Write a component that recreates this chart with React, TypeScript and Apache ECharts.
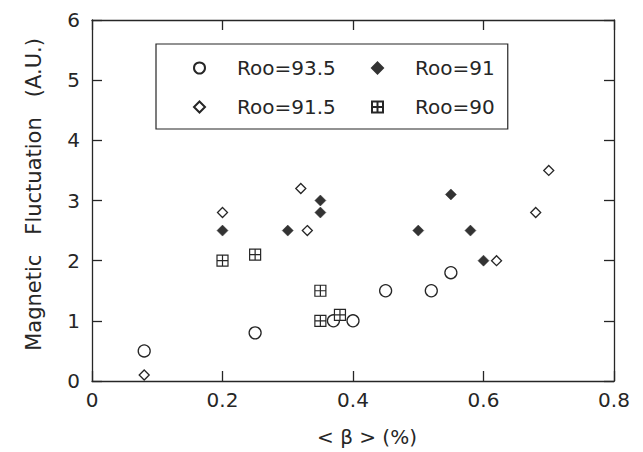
import React, { useEffect, useRef } from "react";
import * as echarts from "echarts";

const xTickLabels = ["0", "0.2", "0.4", "0.6", "0.8"];
const yTickLabels = ["0", "1", "2", "3", "4", "5", "6"];

const roo935X = [0.08, 0.25, 0.37, 0.4, 0.45, 0.52, 0.55];
const roo935Y = [0.5, 0.8, 1.0, 1.0, 1.5, 1.5, 1.8];

const roo91X = [0.2, 0.3, 0.35, 0.35, 0.5, 0.55, 0.58, 0.6];
const roo91Y = [2.5, 2.5, 2.8, 3.0, 2.5, 3.1, 2.5, 2.0];

const roo915X = [0.08, 0.2, 0.32, 0.33, 0.62, 0.68, 0.7];
const roo915Y = [0.1, 2.8, 3.2, 2.5, 2.0, 2.8, 3.5];

const roo90X = [0.2, 0.25, 0.35, 0.35, 0.38];
const roo90Y = [2.0, 2.1, 1.5, 1.0, 1.1];

const FONT = "DejaVu Sans";
const INK = "#262626";

const pairs = (xs: number[], ys: number[]) => xs.map((x, i) => [x, ys[i]]);

const boxPlus = "path://M0,0L10,0L10,10L0,10Z M5,0L5,10 M0,5L10,5";

export default function App() {
  const ref = useRef<HTMLDivElement>(null);
  useEffect(() => {
    if (!ref.current) return;
    const chart = echarts.init(ref.current, undefined, { renderer: "svg" });
    const tickCommon = {
      show: true,
      inside: true,
      length: 10,
      lineStyle: { color: INK, width: 1.3 },
    };
    const lineCommon = {
      show: true,
      onZero: false,
      lineStyle: { color: INK, width: 1.3 },
    };
    const legendText = {
      fontFamily: FONT,
      fontSize: 20,
      color: INK,
      padding: [0, 0, 0, 27],
    };
    chart.setOption({
      animation: false,
      backgroundColor: "#fff",
      grid: { left: 92, right: 29, top: 20, bottom: 70 },
      legend: [
        {
          data: ["Roo=93.5", "Roo=91.5"],
          orient: "vertical",
          left: 156,
          top: 44,
          padding: [14, 172, 12, 37],
          itemGap: 19,
          itemWidth: 11,
          itemHeight: 11,
          borderColor: INK,
          borderWidth: 1.2,
          textStyle: legendText,
          selectedMode: false,
        },
        {
          data: ["Roo=91", "Roo=90"],
          orient: "vertical",
          left: 371,
          top: 58,
          padding: 0,
          itemGap: 19,
          itemWidth: 11,
          itemHeight: 11,
          textStyle: legendText,
          selectedMode: false,
        },
      ],
      xAxis: [
        {
          type: "value",
          min: 0,
          max: 0.8,
          interval: 0.2,
          position: "bottom",
          axisLine: lineCommon,
          axisTick: tickCommon,
          splitLine: { show: false },
          axisLabel: {
            margin: 9,
            fontFamily: FONT,
            fontSize: 20,
            color: INK,
            formatter: (_v: number, i: number) => xTickLabels[i],
          },
          name: "< β > (%)",
          nameLocation: "middle",
          nameGap: 46,
          nameTextStyle: {
            fontFamily: FONT,
            fontSize: 20,
            color: INK,
            padding: [0, 0, 0, 28],
          },
        },
        {
          type: "value",
          min: 0,
          max: 0.8,
          interval: 0.2,
          position: "top",
          axisLine: lineCommon,
          axisTick: tickCommon,
          splitLine: { show: false },
          axisLabel: { show: false },
        },
      ],
      yAxis: [
        {
          type: "value",
          min: 0,
          max: 6,
          interval: 1,
          position: "left",
          axisLine: lineCommon,
          axisTick: tickCommon,
          splitLine: { show: false },
          axisLabel: {
            margin: 12,
            fontFamily: FONT,
            fontSize: 20,
            color: INK,
            formatter: (_v: number, i: number) => yTickLabels[i],
          },
          name: "Magnetic   Fluctuation   (A.U.)",
          nameLocation: "middle",
          nameGap: 48,
          nameTextStyle: {
            fontFamily: FONT,
            fontSize: 21,
            color: INK,
            padding: [0, 0, 0, 12],
          },
        },
        {
          type: "value",
          min: 0,
          max: 6,
          interval: 1,
          position: "right",
          axisLine: lineCommon,
          axisTick: tickCommon,
          splitLine: { show: false },
          axisLabel: { show: false },
        },
      ],
      series: [
        {
          name: "Roo=93.5",
          type: "scatter",
          symbol: "circle",
          symbolSize: 12,
          itemStyle: { color: "#fff", borderColor: INK, borderWidth: 1.3, opacity: 1 },
          data: pairs(roo935X, roo935Y),
        },
        {
          name: "Roo=91",
          type: "scatter",
          symbol: "diamond",
          symbolSize: 11,
          itemStyle: { color: "#333", borderColor: "#333", borderWidth: 0.5, opacity: 1 },
          data: pairs(roo91X, roo91Y),
        },
        {
          name: "Roo=91.5",
          type: "scatter",
          symbol: "diamond",
          symbolSize: 10,
          itemStyle: { color: "#fff", borderColor: INK, borderWidth: 1.3, opacity: 1 },
          data: pairs(roo915X, roo915Y),
        },
        {
          name: "Roo=90",
          type: "scatter",
          symbol: boxPlus,
          symbolSize: 11,
          itemStyle: { color: "#fff", borderColor: INK, borderWidth: 1.2, opacity: 1 },
          data: pairs(roo90X, roo90Y),
        },
      ],
    });
    return () => chart.dispose();
  }, []);
  return (
    <div
      ref={ref}
      style={{ position: "fixed", left: 0, top: 0, width: 643, height: 452 }}
    />
  );
}
